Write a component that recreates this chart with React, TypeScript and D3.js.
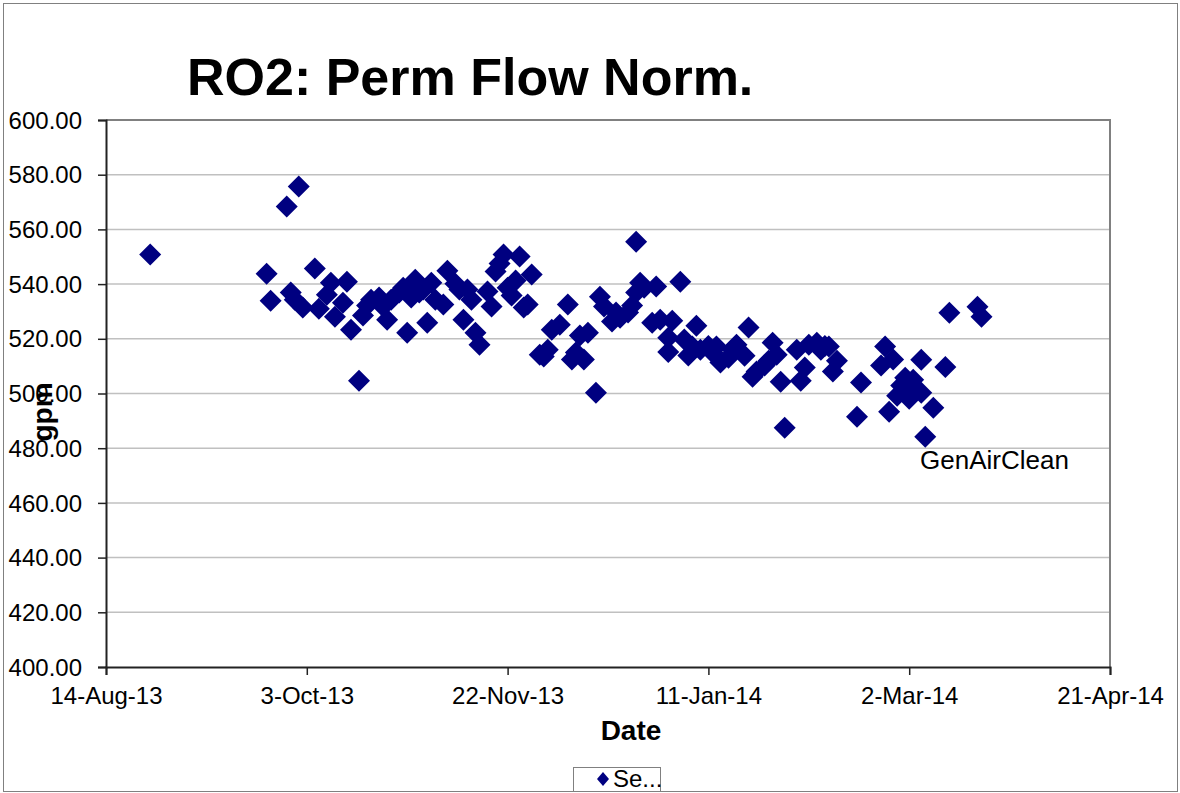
import { useEffect, useRef } from "react";
import * as d3 from "d3";

// sample dates and normalised permeate flow (gpm)
const dates = [
  "2013-08-25", "2013-09-23", "2013-09-24", "2013-09-28", "2013-09-29", "2013-10-01", "2013-09-30", "2013-10-02",
  "2013-10-05", "2013-10-06", "2013-10-08", "2013-10-09", "2013-10-10", "2013-10-12", "2013-10-13", "2013-10-14",
  "2013-10-16", "2013-10-17", "2013-10-18", "2013-10-19", "2013-10-21", "2013-10-22", "2013-10-23", "2013-10-24",
  "2013-10-26", "2013-10-27", "2013-10-28", "2013-10-29", "2013-10-30", "2013-10-31", "2013-11-01", "2013-11-02",
  "2013-11-03", "2013-11-04", "2013-11-06", "2013-11-07", "2013-11-09", "2013-11-10", "2013-11-11", "2013-11-12",
  "2013-11-13", "2013-11-14", "2013-11-15", "2013-11-17", "2013-11-18", "2013-11-19", "2013-11-20", "2013-11-21",
  "2013-11-22", "2013-11-23", "2013-11-24", "2013-11-25", "2013-11-26", "2013-11-27", "2013-11-28", "2013-11-30",
  "2013-12-01", "2013-12-02", "2013-12-03", "2013-12-05", "2013-12-07", "2013-12-08", "2013-12-09", "2013-12-11",
  "2013-12-10", "2013-12-12", "2013-12-14", "2013-12-15", "2013-12-16", "2013-12-18", "2013-12-19", "2013-12-20",
  "2013-12-22", "2013-12-23", "2013-12-24", "2013-12-24", "2013-12-25", "2013-12-26", "2013-12-28", "2013-12-29",
  "2013-12-30", "2014-01-01", "2014-01-01", "2014-01-02", "2014-01-04", "2014-01-05", "2014-01-06", "2014-01-07",
  "2014-01-08", "2014-01-09", "2014-01-11", "2014-01-12", "2014-01-13", "2014-01-14", "2014-01-16", "2014-01-17",
  "2014-01-18", "2014-01-20", "2014-01-21", "2014-01-22", "2014-01-23", "2014-01-25", "2014-01-26", "2014-01-27",
  "2014-01-28", "2014-01-29", "2014-01-30", "2014-02-02", "2014-02-03", "2014-02-04", "2014-02-05", "2014-02-07",
  "2014-02-08", "2014-02-09", "2014-02-10", "2014-02-11", "2014-02-12", "2014-02-17", "2014-02-18", "2014-02-23",
  "2014-02-24", "2014-02-25", "2014-02-26", "2014-02-27", "2014-02-28", "2014-03-01", "2014-03-02", "2014-03-02",
  "2014-03-03", "2014-03-03", "2014-03-05", "2014-03-05", "2014-03-06", "2014-03-08", "2014-03-11", "2014-03-12",
  "2014-03-19", "2014-03-20",
];
const flow = [
  550.8, 543.8, 533.9, 568.4, 536.9, 575.7, 534.3, 531.4,
  545.7, 531.0, 536.1, 540.5, 528.1, 533.2, 540.9, 523.3,
  504.7, 528.5, 532.2, 534.3, 535.1, 531.8, 527.0, 534.3,
  536.9, 538.7, 522.2, 535.1, 541.6, 536.9, 538.0, 525.9,
  540.5, 534.3, 532.5, 544.9, 540.1, 538.0, 527.0, 538.0,
  534.3, 522.2, 517.8, 537.3, 531.8, 544.6, 547.5, 550.8,
  538.7, 535.8, 541.3, 550.1, 531.4, 532.5, 543.5, 514.2,
  513.5, 516.0, 523.3, 525.1, 532.5, 512.4, 515.0, 512.4,
  521.2, 522.2, 500.3, 535.4, 531.8, 526.3, 529.6, 527.7,
  529.6, 532.2, 555.5, 536.9, 540.5, 538.7, 525.9, 539.1,
  527.0, 520.4, 515.2, 526.6, 540.9, 519.7, 513.9, 517.2,
  524.8, 516.0, 517.4, 515.0, 517.2, 511.3, 513.1, 516.0,
  517.8, 513.8, 524.1, 506.1, 508.0, 510.2, 512.0, 518.6,
  514.2, 504.3, 487.5, 516.0, 504.7, 509.5, 517.8, 518.6,
  516.0, 517.4, 517.2, 508.0, 512.0, 491.5, 504.0, 510.2,
  517.2, 493.3, 512.4, 499.2, 502.9, 505.8, 502.1, 498.1,
  500.7, 505.0, 500.3, 512.3, 484.2, 494.8, 509.7, 529.5,
  531.7, 528.1,
];

const xTicks = ["2013-08-14", "2013-10-03", "2013-11-22", "2014-01-11", "2014-03-02", "2014-04-21"];
const yTicks = [400, 420, 440, 460, 480, 500, 520, 540, 560, 580, 600];

const W = 1180;
const H = 793;
const FONT = "'Liberation Sans', Arial, sans-serif";
const NAVY = "#000080";

export default function App() {
  const ref = useRef<SVGSVGElement>(null);

  useEffect(() => {
    if (!ref.current) return;
    const parse = d3.utcParse("%Y-%m-%d");
    const fmt = d3.utcFormat("%-d-%b-%y");
    const left = 106, right = 1110, top = 120, bottom = 667;

    const svg = d3.select(ref.current);
    svg.selectAll("*").remove();

    svg.append("rect").attr("x", 3.5).attr("y", 3.5).attr("width", 1174).attr("height", 788)
      .attr("fill", "white").attr("stroke", "#808080").attr("stroke-width", 1);

    const x = d3.scaleUtc()
      .domain([parse(xTicks[0])!, parse(xTicks[xTicks.length - 1])!])
      .range([left, right]);
    const y = d3.scaleLinear().domain([400, 600]).range([bottom, top]);

    // grid
    svg.append("g").selectAll("line").data(yTicks.filter((v) => v > 400 && v < 600)).enter()
      .append("line")
      .attr("x1", left).attr("x2", right)
      .attr("y1", (d) => y(d)).attr("y2", (d) => y(d))
      .attr("stroke", "#c0c0c0").attr("stroke-width", 1.5);

    // frame
    svg.append("path").attr("d", `M${left},${top}H${right}V${bottom}`)
      .attr("fill", "none").attr("stroke", "#808080").attr("stroke-width", 2);

    const yAxis = svg.append("g").attr("transform", `translate(${left},0)`)
      .call(d3.axisLeft(y).tickValues(yTicks).tickSize(8).tickPadding(16).tickFormat((d) => (+d).toFixed(2)));
    yAxis.select(".domain").attr("stroke", "#222").attr("stroke-width", 2);
    yAxis.selectAll(".tick line").attr("stroke", "#222").attr("stroke-width", 1.5);
    yAxis.selectAll("text").attr("font-family", FONT).attr("font-size", 24).attr("fill", "#000")
      .attr("dy", "0.34em");

    const xAxis = svg.append("g").attr("transform", `translate(0,${bottom})`)
      .call(d3.axisBottom(x).tickValues(xTicks.map((t) => parse(t)!)).tickSize(8).tickPadding(12)
        .tickFormat((d) => fmt(d as Date)));
    xAxis.select(".domain").attr("stroke", "#222").attr("stroke-width", 2);
    xAxis.selectAll(".tick line").attr("stroke", "#222").attr("stroke-width", 1.5);
    xAxis.selectAll("text").attr("font-family", FONT).attr("font-size", 24).attr("fill", "#000")
      .attr("dy", "0.71em");

    // points
    const diamond = "M0,-11L11,0L0,11L-11,0Z";
    svg.append("g").selectAll("path").data(dates.map((d, i) => ({ date: parse(d)!, v: flow[i] }))).enter()
      .append("path")
      .attr("d", diamond)
      .attr("transform", (d) => `translate(${x(d.date)},${y(d.v)})`)
      .attr("fill", NAVY);

    svg.append("text").attr("x", 187).attr("y", 95).attr("font-family", FONT)
      .attr("font-size", 52).attr("font-weight", "bold").text("RO2: Perm Flow Norm.");

    svg.append("text").attr("x", 631).attr("y", 740).attr("text-anchor", "middle").attr("font-family", FONT)
      .attr("font-size", 28).attr("font-weight", "bold").text("Date");

    svg.append("text").attr("transform", "translate(52,412) rotate(-90)").attr("text-anchor", "middle")
      .attr("font-family", FONT).attr("font-size", 28).attr("font-weight", "bold").text("gpm");

    svg.append("text").attr("x", 920).attr("y", 469).attr("font-family", FONT)
      .attr("font-size", 26).text("GenAirClean");

    // legend
    const lg = svg.append("g");
    lg.append("rect").attr("x", 573.5).attr("y", 767.5).attr("width", 87).attr("height", 24)
      .attr("fill", "white").attr("stroke", "#808080");
    lg.append("path").attr("d", "M0,-7L6,0L0,7L-6,0Z").attr("transform", "translate(603,779)").attr("fill", NAVY);
    lg.append("text").attr("x", 613).attr("y", 787).attr("font-family", FONT).attr("font-size", 24).text("Se...");
  }, []);

  return <svg ref={ref} width={W} height={H} style={{ position: "absolute", left: 0, top: 0 }} />;
}
